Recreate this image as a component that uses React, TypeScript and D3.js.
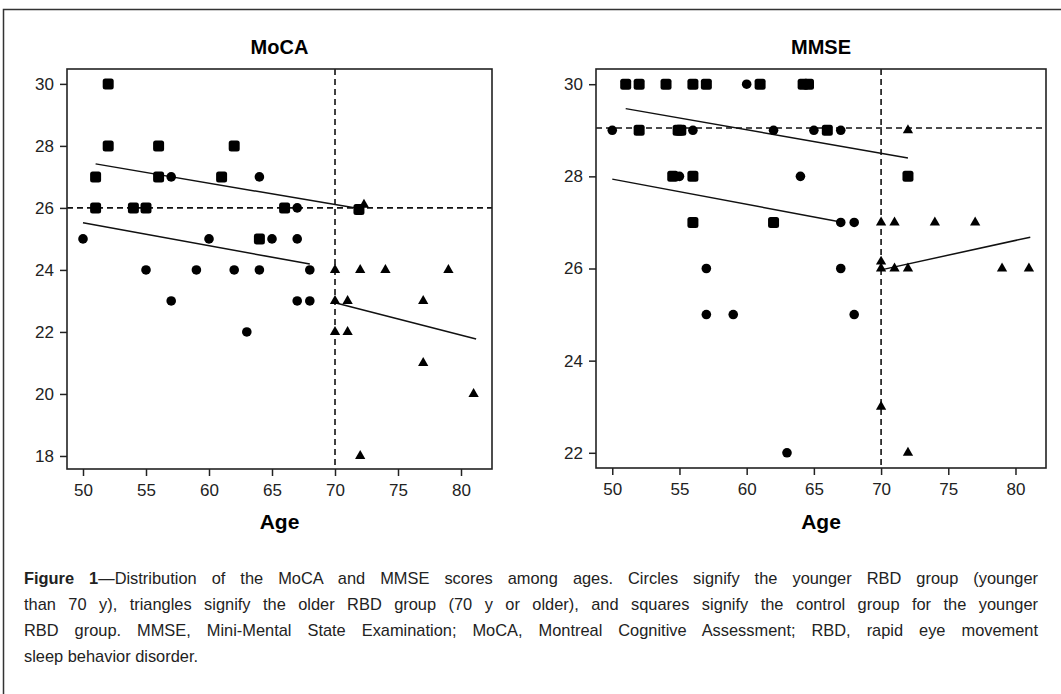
import React, { useEffect, useRef } from "react";
import * as d3 from "d3";

// ticks
const ageTicks = [50, 55, 60, 65, 70, 75, 80];
const mocaTicks = [18, 20, 22, 24, 26, 28, 30];
const mmseTicks = [22, 24, 26, 28, 30];

// MoCA panel: [age, score]
const mocaYoung = [
  [50, 25], [55, 24], [57, 27], [57, 23], [59, 24], [60, 25], [62, 24], [63, 22],
  [64, 27], [64, 24], [65, 25], [67, 26], [67, 25], [67, 23], [68, 24], [68, 23],
];
const mocaOlder = [
  [70, 24], [72, 24], [74, 24], [79, 24], [70, 23], [71, 23], [77, 23], [70, 22],
  [71, 22], [77, 21], [81, 20], [72, 18], [72.3, 26.1],
];
const mocaControl = [
  [52, 30], [52, 28], [56, 28], [62, 28], [51, 27], [56, 27], [61, 27], [51, 26],
  [54, 26], [55, 26], [66, 26], [64, 25], [71.9, 25.95],
];
const mocaFitControl = [[51, 27.42], [72, 25.97]];
const mocaFitYoung = [[50, 25.52], [68, 24.19]];
const mocaFitOlder = [[70, 22.94], [81.2, 21.77]];

// MMSE panel
const mmseYoung = [
  [60, 30], [50, 29], [56, 29], [62, 29], [65, 29], [67, 29], [55, 28], [64, 28],
  [67, 27], [68, 27], [57, 26], [67, 26], [57, 25], [59, 25], [68, 25], [63, 22],
];
const mmseOlder = [
  [72, 29], [70, 27], [71, 27], [74, 27], [77, 27], [70, 26.15], [70, 26], [71, 26],
  [72, 26], [79, 26], [81, 26], [70, 23], [72, 22],
];
const mmseControl = [
  [51, 30], [52, 30], [54, 30], [56, 30], [57, 30], [61, 30], [64.2, 30], [64.6, 30],
  [52, 29], [54.9, 29], [55.1, 29], [66, 29], [54.5, 28], [56, 28], [72, 28],
  [56, 27], [62, 27],
];
const mmseFitControl = [[51, 29.47], [72, 28.4]];
const mmseFitYoung = [[50, 27.94], [67, 27.01]];
const mmseFitOlder = [[70, 25.97], [81.1, 26.68]];

const captionLines = [
  "—Distribution of the MoCA and MMSE scores among ages. Circles signify the younger RBD group (younger",
  "than 70 y), triangles signify the older RBD group (70 y or older), and squares signify the control group for the younger",
  "RBD group. MMSE, Mini-Mental State Examination; MoCA, Montreal Cognitive Assessment; RBD, rapid eye movement",
  "sleep behavior disorder.",
];

const FONT = "'Liberation Sans', Arial, sans-serif";

const panels = [
  {
    title: "MoCA",
    young: mocaYoung, older: mocaOlder, control: mocaControl,
    fits: [mocaFitControl, mocaFitYoung, mocaFitOlder],
    yTicks: mocaTicks, xDomain: [48.73, 82.46], yDomain: [17.58, 30.48],
    box: { x0: 67, x1: 492, y0: 69, y1: 469 }, hLine: 26,
  },
  {
    title: "MMSE",
    young: mmseYoung, older: mmseOlder, control: mmseControl,
    fits: [mmseFitControl, mmseFitYoung, mmseFitOlder],
    yTicks: mmseTicks, xDomain: [48.79, 82.27], yDomain: [21.67, 30.33],
    box: { x0: 596, x1: 1046, y0: 69, y1: 468 }, hLine: 29.05,
  },
];

const App = () => {
  const ref = useRef(null);

  useEffect(() => {
    const svg = d3.select(ref.current);
    svg.selectAll("*").remove();

    // outer frame (only left and top visible)
    svg.append("path")
      .attr("d", "M3.5,700 V9.5 H1070")
      .attr("fill", "none").attr("stroke", "#333").attr("stroke-width", 1.5);

    panels.forEach((p) => {
      const { x0, x1, y0, y1 } = p.box;
      const x = d3.scaleLinear().domain(p.xDomain).range([x0, x1]);
      const y = d3.scaleLinear().domain(p.yDomain).range([y1, y0]);
      const g = svg.append("g");

      // x axis
      const xa = g.append("g")
        .attr("transform", `translate(0,${y1})`)
        .call(d3.axisBottom(x).tickValues(ageTicks).tickSize(7).tickPadding(8).tickFormat(d3.format("d")));
      // y axis
      const ya = g.append("g")
        .attr("transform", `translate(${x0},0)`)
        .call(d3.axisLeft(y).tickValues(p.yTicks).tickSize(7).tickPadding(6).tickFormat(d3.format("d")));
      [xa, ya].forEach((a) => {
        a.select(".domain").remove();
        a.selectAll("line").attr("stroke", "#222").attr("stroke-width", 1.5);
        a.selectAll("text").attr("fill", "#222").style("font-family", FONT).style("font-size", "17px");
      });

      // reference lines
      g.append("line")
        .attr("x1", x(70)).attr("x2", x(70)).attr("y1", y0).attr("y2", y1)
        .attr("stroke", "#111").attr("stroke-width", 1.6).attr("stroke-dasharray", "6,4");
      g.append("line")
        .attr("x1", x0).attr("x2", x1).attr("y1", y(p.hLine)).attr("y2", y(p.hLine))
        .attr("stroke", "#111").attr("stroke-width", 1.6).attr("stroke-dasharray", "6,4");

      // regression lines
      const line = d3.line().x((d) => x(d[0])).y((d) => y(d[1]));
      p.fits.forEach((f) => {
        g.append("path").attr("d", line(f))
          .attr("fill", "none").attr("stroke", "#111").attr("stroke-width", 1.5);
      });

      // markers
      g.selectAll(".sq").data(p.control).enter().append("rect")
        .attr("x", (d) => x(d[0]) - 5.5).attr("y", (d) => y(d[1]) - 5.5)
        .attr("width", 11).attr("height", 11).attr("rx", 2.5)
        .attr("fill", "#000");
      g.selectAll(".ci").data(p.young).enter().append("circle")
        .attr("cx", (d) => x(d[0])).attr("cy", (d) => y(d[1])).attr("r", 4.8)
        .attr("fill", "#000");
      const tri = d3.symbol().type(d3.symbolTriangle).size(46);
      g.selectAll(".tr").data(p.older).enter().append("path")
        .attr("d", tri)
        .attr("transform", (d) => `translate(${x(d[0])},${y(d[1])})`)
        .attr("fill", "#000");

      // frame
      g.append("rect")
        .attr("x", x0).attr("y", y0).attr("width", x1 - x0).attr("height", y1 - y0)
        .attr("fill", "none").attr("stroke", "#222").attr("stroke-width", 1.6);

      // titles
      g.append("text")
        .attr("x", (x0 + x1) / 2).attr("y", 54).attr("text-anchor", "middle")
        .style("font-family", FONT).style("font-weight", "bold").style("font-size", "20px")
        .text(p.title);
      g.append("text")
        .attr("x", (x0 + x1) / 2).attr("y", 529).attr("text-anchor", "middle")
        .style("font-family", FONT).style("font-weight", "bold").style("font-size", "21px")
        .text("Age");
    });

    // caption, justified by word spacing
    const capW = 1014;
    captionLines.forEach((t, i) => {
      const txt = svg.append("text")
        .attr("x", 24).attr("y", 584 + i * 26)
        .style("font-family", FONT).style("font-size", "16.4px").attr("fill", "#222");
      if (i === 0) {
        txt.append("tspan").style("font-weight", "bold").text("Figure 1");
      }
      txt.append("tspan").text(t);
      if (i < captionLines.length - 1) {
        const node = txt.node();
        const w = node.getComputedTextLength();
        const spaces = (t.match(/ /g) || []).length + (i === 0 ? 1 : 0);
        if (spaces > 0) txt.attr("word-spacing", (capW - w) / spaces);
      }
    });
  }, []);

  return (
    <svg
      ref={ref}
      width={1061}
      height={694}
      style={{ position: "absolute", left: 0, top: 0, background: "#fff" }}
    />
  );
};

export default App;
